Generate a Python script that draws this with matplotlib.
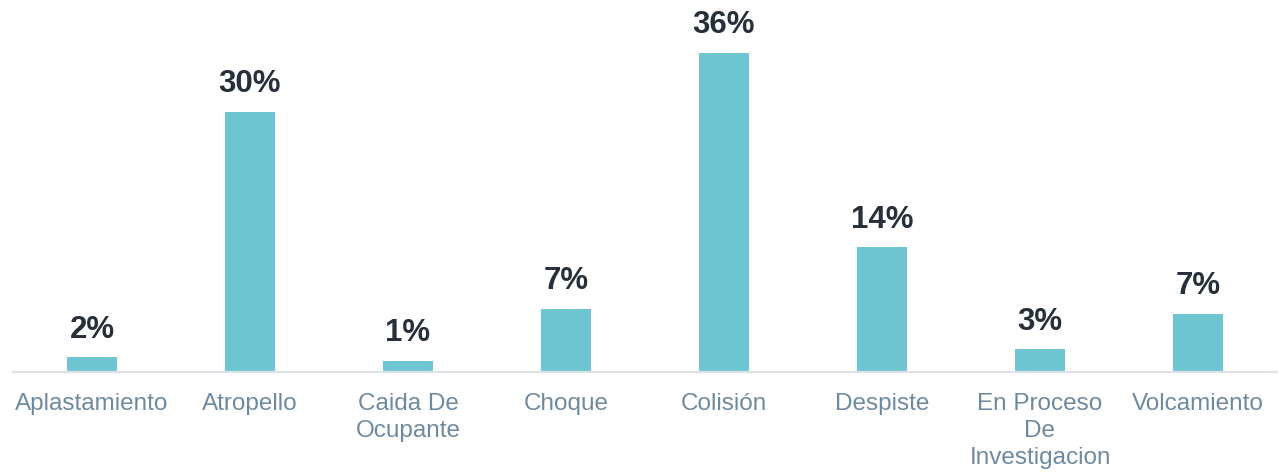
import matplotlib
matplotlib.use("Agg")
import matplotlib.pyplot as plt
from matplotlib import font_manager as fm

categories = ["Aplastamiento", "Atropello", "Caida De\nOcupante", "Choque", "Colisión",
              "Despiste", "En Proceso\nDe\nInvestigacion", "Volcamiento"]
values = [1.7, 29.6, 1.3, 7.2, 36.3, 14.2, 2.6, 6.6]
labels = ["2%", "30%", "1%", "7%", "36%", "14%", "3%", "7%"]

plt.rcParams['font.family'] = ['Liberation Sans', 'DejaVu Sans']

bold_fp = fm.FontProperties(family=["Liberation Sans", "DejaVu Sans"], weight="bold", size=22.5)

fig = plt.figure(figsize=(12.82, 4.72), dpi=100)
ax = fig.add_axes([13/1282, 100/472, 1264/1282, 372/472])

x = list(range(len(categories)))
bars = ax.bar(x, values, width=0.316, color="#6cc5d0", zorder=2)
for b, lab in zip(bars, labels):
    ax.annotate(lab, (b.get_x() + b.get_width()/2, b.get_height()),
                xytext=(0, 9), textcoords="offset points", ha="center", va="bottom",
                fontproperties=bold_fp, color="#262f3a")

ax.set_xlim(-0.5, len(categories) - 0.5)
ax.set_ylim(0, 42.3)
ax.set_xticks(x)
ax.set_xticklabels(categories, fontsize=17.5, color="#6e8aa0", linespacing=1.3)
ax.tick_params(axis="x", length=0, pad=15)
ax.set_yticks([])
for s in ["top", "right", "left"]:
    ax.spines[s].set_visible(False)
ax.spines["bottom"].set_color("#dde2e8")
ax.spines["bottom"].set_linewidth(1.6)

fig.savefig("out.png", dpi=100)
